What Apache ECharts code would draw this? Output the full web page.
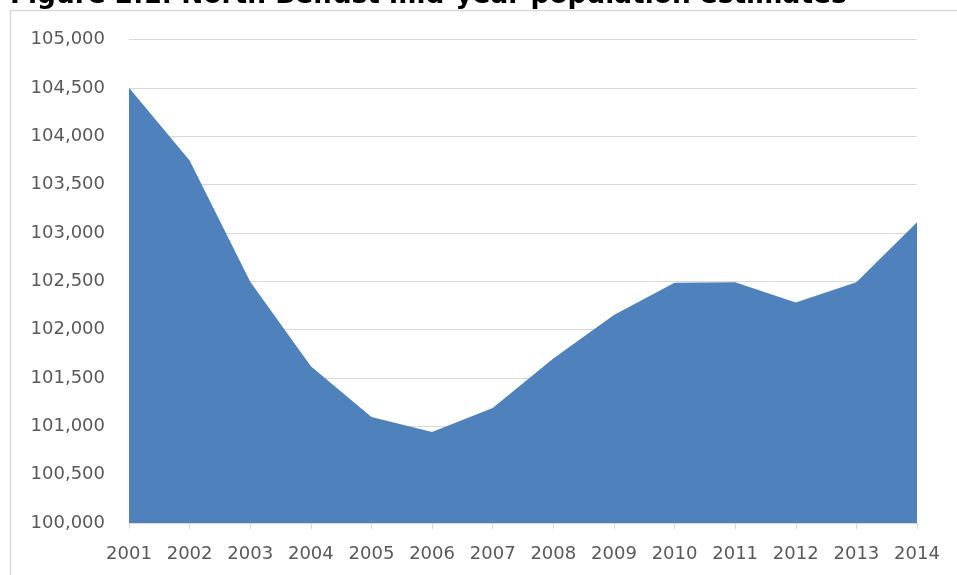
<!DOCTYPE html>
<html><head><meta charset="utf-8">
<script src="https://cdn.jsdelivr.net/npm/echarts@6/dist/echarts.min.js"></script>
<style>html,body{margin:0;padding:0;background:#fff}#c{width:957px;height:575px}</style>
</head><body><div id="c"></div>
<script>
const years = ['2001','2002','2003','2004','2005','2006','2007','2008','2009','2010','2011','2012','2013','2014'];
const population = [104500, 103750, 102495, 101620, 101095, 100940, 101190, 101700, 102150, 102485, 102490, 102280, 102490, 103110];
const titleText = 'Figure 2.1: North Belfast mid-year population estimates';

const chart = echarts.init(document.getElementById('c'), null, {renderer:'canvas'});
chart.setOption({
  animation: false,
  backgroundColor: '#fff',
  graphic: [
    {type:'rect', shape:{x:10.5, y:10.5, width:1000, height:1000}, style:{fill:'none', stroke:'#d9d9d9', lineWidth:1.5}, silent:true, z:-1},
    {type:'text', x:10, y:9, style:{text:titleText, font:'bold 26.4px "DejaVu Sans", Verdana, sans-serif', fill:'#000', verticalAlign:'bottom', align:'left'}}
  ],
  grid: {left:129, right:40, top:39.5, bottom:52, containLabel:false},
  xAxis: {
    type:'category', data: years, boundaryGap:false,
    axisLine:{show:true, lineStyle:{color:'#d9d9d9', width:1}},
    axisTick:{show:true, alignWithLabel:true, length:6, lineStyle:{color:'#d9d9d9'}},
    axisLabel:{color:'#595959', fontFamily:'"DejaVu Sans", sans-serif', fontSize:18, margin:22, interval:0},
    splitLine:{show:false}
  },
  yAxis: {
    type:'value', min:100000, max:105000, interval:500,
    axisLine:{show:false}, axisTick:{show:false},
    axisLabel:{color:'#595959', fontFamily:'"DejaVu Sans", sans-serif', fontSize:18, margin:24,
      formatter: v => v.toLocaleString('en-US')},
    splitLine:{show:true, lineStyle:{color:'#d9d9d9', width:1}}
  },
  series: [{
    type:'line', data: population, symbol:'none',
    lineStyle:{width:0, color:'#4f81bd'},
    areaStyle:{color:'#4f81bd', opacity:1}
  }]
});
</script></body></html>
